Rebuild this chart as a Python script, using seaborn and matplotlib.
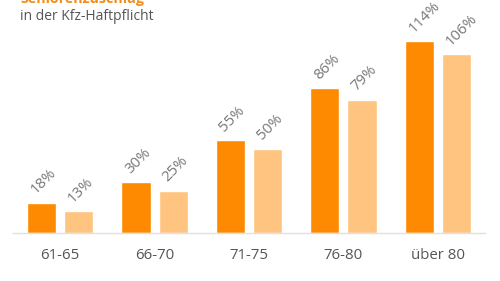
import matplotlib
matplotlib.use("Agg")
import matplotlib.pyplot as plt
import seaborn as sns
import pandas as pd

categories = ["61-65", "66-70", "71-75", "76-80", "über 80"]
series_a = [18, 30, 55, 86, 114]
series_b = [13, 25, 50, 79, 106]
series_names = ["Zuschlag A", "Zuschlag B"]
colors = ["#FD8A00", "#FFC47F"]

df = pd.DataFrame({
    "Alter": categories * 2,
    "Wert": series_a + series_b,
    "Serie": [series_names[0]] * len(categories) + [series_names[1]] * len(categories),
})

sns.set_style("white")
plt.rcParams["font.family"] = ["Open Sans", "DejaVu Sans"]

fig = plt.figure(figsize=(5, 2.81), dpi=100)
ax = fig.add_axes([0.026, 0.171, 0.944, 0.829])

sns.barplot(data=df, x="Alter", y="Wert", hue="Serie", palette=colors,
            width=0.787, gap=0.217, order=categories, hue_order=series_names,
            saturation=1, ax=ax, legend=False)

ax.set_xlim(-0.5, 4.5)
ax.set_ylim(0, 138.3)
for s in ["top", "right", "left"]:
    ax.spines[s].set_visible(False)
ax.spines["bottom"].set_color("#e0e0e0")
ax.spines["bottom"].set_linewidth(1)
ax.set_yticks([])
ax.set_xlabel("")
ax.set_ylabel("")
ax.tick_params(axis="x", length=0, pad=11, labelsize=10.8, labelcolor="#555555")

for cont in ax.containers:
    for bar in cont:
        h = bar.get_height()
        ax.text(bar.get_x() + 0.09, h + 5.0, f"{int(round(h))}%",
                rotation=45, rotation_mode="anchor", ha="left", va="baseline",
                fontsize=10.8, color="#777777", clip_on=False)

fig.text(0.04, 1 - 3.5 / 281, "Seniorenzuschlag", color="#F28C1B",
         fontsize=10.3, fontweight="bold", va="baseline", ha="left")
fig.text(0.04, 1 - 17 / 281, "in der Kfz-Haftpflicht", color="#555555",
         fontsize=10, va="center", ha="left")

fig.savefig("out.png", dpi=100)
